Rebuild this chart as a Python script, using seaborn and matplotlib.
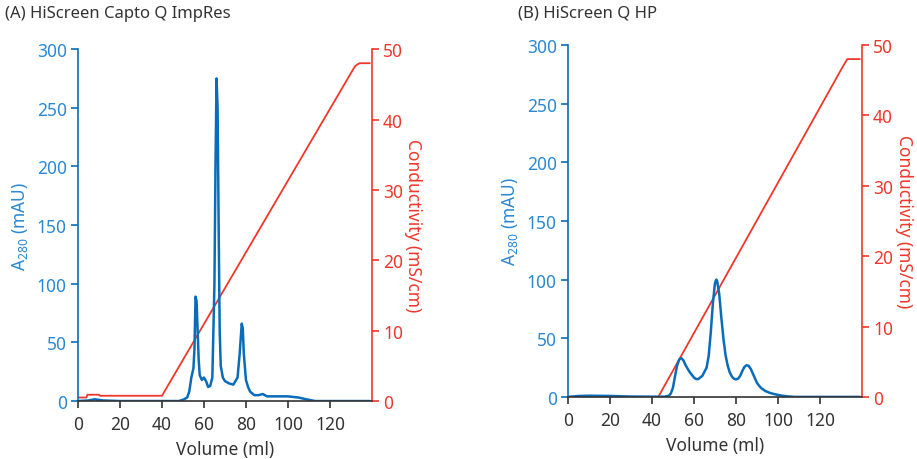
import matplotlib
matplotlib.use("Agg")
import matplotlib.pyplot as plt
import seaborn as sns

# Panel A: HiScreen Capto Q ImpRes
a_vol = [0, 5, 8, 10, 12, 20, 40, 48, 50, 52, 53, 54, 55, 55.5, 56, 56.5, 57, 57.5, 58, 59, 60,
         61, 62, 63, 64, 65, 65.5, 66, 66.5, 67, 67.5, 68, 69, 70, 72, 74, 76, 77, 78, 78.5, 79,
         80, 81, 82, 84, 86, 88, 90, 95, 100, 105, 110, 113, 120, 139]
a_abs = [0, 0.5, 1.5, 1, 0.5, 0, 0, 0, 1, 3, 8, 20, 28, 45, 89, 85, 60, 35, 22, 18, 20,
         17, 12, 13, 20, 100, 200, 275, 250, 150, 60, 30, 20, 17, 15, 14, 20, 40, 66, 62, 40,
         18, 12, 8, 5, 5, 6, 4, 4, 4, 3, 1, 0, 0, 0]
a_cond_vol = [0, 4, 4.5, 10, 10.5, 40, 130, 132, 134, 139]
a_cond = [0.5, 0.5, 0.9, 0.9, 0.75, 0.75, 46.6, 47.6, 48, 48]

# Panel B: HiScreen Q HP
b_vol = [0, 5, 10, 20, 30, 40, 46, 48, 49, 50, 51, 52, 53, 54, 55, 56, 58, 60, 61, 62, 64, 66,
         67, 68, 69, 70, 70.6, 71, 72, 73, 74, 75, 76, 77, 78, 79, 80, 81, 82, 83, 84, 85, 86,
         87, 88, 89, 90, 91, 92, 94, 96, 98, 100, 102, 105, 108, 139]
b_abs = [0, 0.8, 1, 0.8, 0.3, 0.2, 0.2, 1, 3, 8, 18, 27, 32, 33, 31, 27, 21, 16.5, 15.2, 15.2,
         18, 25, 35, 55, 80, 97, 100, 99, 88, 68, 50, 36, 27, 21, 17.5, 15.5, 15, 15.5, 18, 22,
         25.5, 27, 26.5, 24, 20, 16, 12, 9.5, 7.5, 5, 3.5, 2.5, 1.7, 1, 0.4, 0, 0]
b_cond_vol = [39, 43, 131, 133, 139]
b_cond = [0, 0, 47, 48, 48]

titles = ["(A) HiScreen Capto Q ImpRes", "(B) HiScreen Q HP"]
x_ticks = [0, 20, 40, 60, 80, 100, 120]
abs_ticks = [0, 50, 100, 150, 200, 250, 300]
cond_ticks = [0, 10, 20, 30, 40, 50]

BLUE = "#0a6cb8"
BLUE_TXT = "#2a88d2"
RED = "#f0372b"
GREY = "#333333"
FS = 12.5

sns.set_style("white")
plt.rcParams["font.family"] = ["Noto Sans", "DejaVu Sans"]
plt.rcParams["mathtext.default"] = "regular"

fig = plt.figure(figsize=(9.17, 4.6), dpi=100)
panels = [
    (a_vol, a_abs, a_cond_vol, a_cond, [0.085, 0.126, 0.3206, 0.765], (0.005, 0.97)),
    (b_vol, b_abs, b_cond_vol, b_cond, [0.6194, 0.135, 0.3206, 0.765], (0.565, 0.97)),
]

for (vol, ab, cvol, cond, rect, tpos), title in zip(panels, titles):
    ax = fig.add_axes(rect)
    ax2 = ax.twinx()
    sns.lineplot(x=cvol, y=cond, ax=ax2, color=RED, linewidth=1.3, estimator=None, sort=False)
    sns.lineplot(x=vol, y=ab, ax=ax, color=BLUE, linewidth=1.8, estimator=None, sort=False)
    ax.set_zorder(ax2.get_zorder() + 1)
    ax.patch.set_visible(False)

    ax.set_xlim(0, 140)
    ax.set_ylim(0, 300)
    ax2.set_ylim(0, 50)
    ax.set_xticks(x_ticks)
    ax.set_yticks(abs_ticks)
    ax2.set_yticks(cond_ticks)

    for s in ["top", "right"]:
        ax.spines[s].set_visible(False)
    for s in ["top", "left", "bottom"]:
        ax2.spines[s].set_visible(False)
    ax.spines["left"].set_color(BLUE)
    ax2.spines["right"].set_color(RED)
    ax.spines["bottom"].set_color(GREY)
    for sp in [ax.spines["left"], ax2.spines["right"], ax.spines["bottom"]]:
        sp.set_linewidth(1.2)

    ax.tick_params(axis="y", colors=BLUE, labelcolor=BLUE_TXT, labelsize=FS,
                   direction="out", length=5, width=1.2, left=True, pad=3)
    ax.tick_params(axis="x", colors=GREY, labelcolor=GREY, labelsize=FS,
                   direction="out", length=5, width=1.2, bottom=True, pad=5)
    ax2.tick_params(axis="y", colors=RED, labelcolor=RED, labelsize=FS,
                    direction="out", length=5, width=1.2, right=True, pad=3)

    ax.set_xlabel("Volume (ml)", fontsize=FS, color=GREY, labelpad=5)
    ax.set_ylabel("A$_{280}$ (mAU)", fontsize=FS, color=BLUE_TXT, labelpad=5)
    ax2.set_ylabel("Conductivity (mS/cm)", fontsize=FS, color=RED, rotation=270, labelpad=14)

    fig.text(tpos[0], tpos[1], title, fontsize=12, color=GREY, ha="left", va="center")

fig.savefig("out.png", dpi=100)
